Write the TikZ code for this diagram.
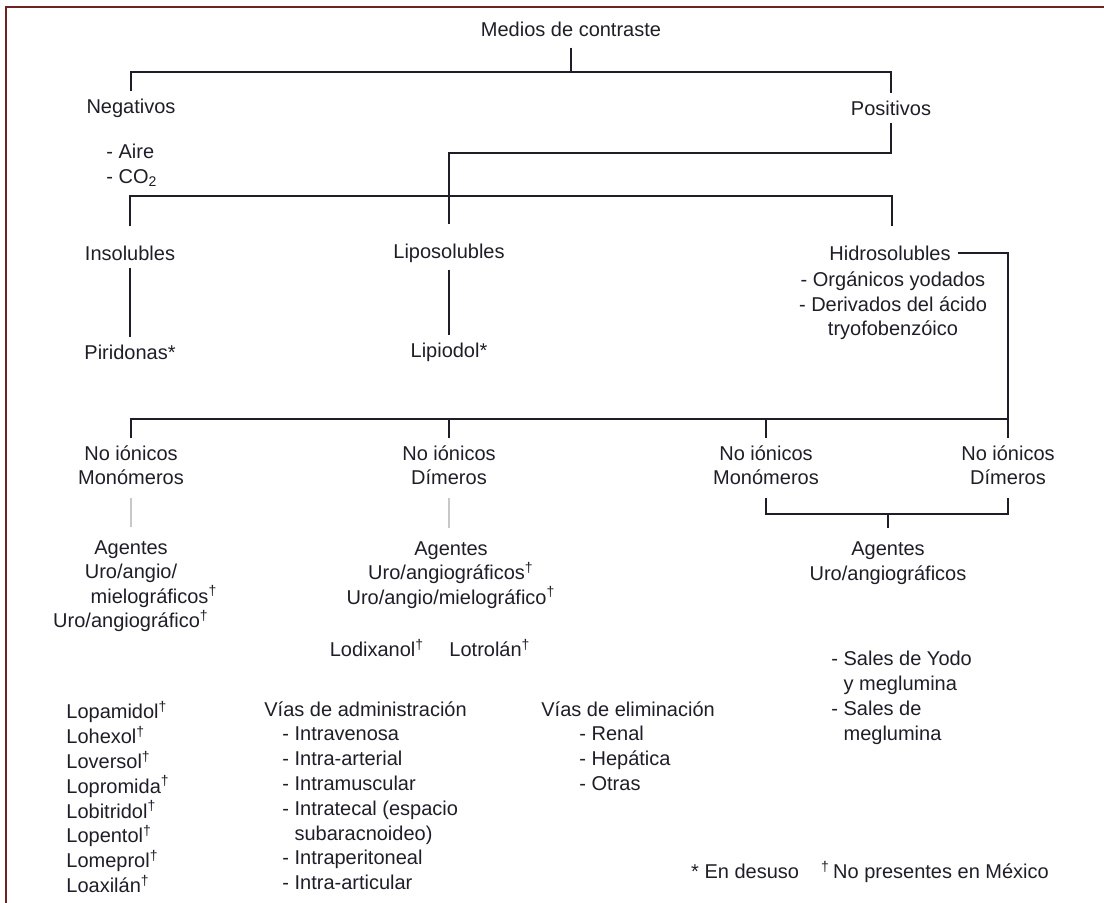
\documentclass[tikz,border=0pt]{standalone}
\usepackage{fontspec}
\setmainfont{Liberation Sans}
\usetikzlibrary{positioning}
\definecolor{framecolor}{RGB}{110,35,32}
\definecolor{inkcolor}{RGB}{30,30,40}
\definecolor{faintcolor}{RGB}{200,200,200}
\newcommand{\nomex}{\textsuperscript{†}}
\tikzset{
  chart text/.style={
    text=inkcolor,
    inner sep=3.5pt,
    align=center,
    font=\fontsize{10}{12.2}\selectfont
  },
  list text/.style={
    chart text,
    align=left,
    anchor=north west,
    inner sep=0pt,
    font=\fontsize{10}{12.4}\selectfont
  },
  chart line/.style={
    draw=inkcolor,
    line width=0.8pt
  },
  faint line/.style={
    draw=faintcolor,
    line width=0.7pt
  },
  frame line/.style={
    draw=framecolor,
    line width=1.3pt
  }
}

\begin{document}
\begin{tikzpicture}[x=0.5pt, y=-0.5pt]
  \useasboundingbox (0,0) rectangle (1104,903);
  % Frame
  \draw[frame line] (6,903) -- (6,7) -- (1104,7);

  % Top levels
  \node[chart text] (medios) at (571,29) {Medios de contraste};
  \node[chart text] (neg) at (131,108) {Negativos};
  \node[chart text] (pos) at (891,108) {Positivos};
  \node[list text, anchor=west] (gases) at (106,165) {- Aire\\- CO\textsubscript{2}};

  \node[chart text] (insol) at (130,253) {Insolubles};
  \node[chart text] (lipo) at (449,253) {Liposolubles};
  \node[chart text] (hidro) at (890,253) {Hidrosolubles};
  \node[chart text] (yodados) at (893,306) {- Orgánicos yodados\\- Derivados del ácido\\tryofobenzóico};

  \node[chart text] (pirid) at (130,352) {Piridonas*};
  \node[chart text] (lipiod) at (449,352) {Lipiodol*};

  % No ionicos
  \node[chart text] (mono1) at (131,465) {No iónicos\\Monómeros};
  \node[chart text] (dim1) at (449,465) {No iónicos\\Dímeros};
  \node[chart text] (mono2) at (766,465) {No iónicos\\Monómeros};
  \node[chart text] (dim2) at (1008,465) {No iónicos\\Dímeros};

  % Agentes
  \node[chart text] (agent1) at (131,586) {Agentes\\Uro/angio/\\\hspace*{2.3em}mielográficos\nomex\\Uro/angiográfico\nomex};
  \node[chart text] (agent2) at (451,575) {Agentes\\Uro/angiográficos\nomex\\Uro/angio/mielográfico\nomex};
  \node[chart text] (agent3) at (888,563) {Agentes\\Uro/angiográficos};

  \node[chart text] (lodix) at (377,648) {Lodixanol\nomex};
  \node[chart text] (lotrol) at (490,648) {Lotrolán\nomex};
  \node[list text] (sales) at (831,651) {- Sales de Yodo\\\phantom{- }y meglumina\\- Sales de\\\phantom{- }meglumina};

  % Lists
  \node[list text] (lolist) at (66,701) {Lopamidol\nomex\\Lohexol\nomex\\Loversol\nomex\\Lopromida\nomex\\Lobitridol\nomex\\Lopentol\nomex\\Lomeprol\nomex\\Loaxilán\nomex};
  \node[list text] (admin) at (264,701) {Vías de administración\\
    \hspace*{0.9em}- Intravenosa\\
    \hspace*{0.9em}- Intra-arterial\\
    \hspace*{0.9em}- Intramuscular\\
    \hspace*{0.9em}- Intratecal (espacio\\
    \hspace*{0.9em}\phantom{- }subaracnoideo)\\
    \hspace*{0.9em}- Intraperitoneal\\
    \hspace*{0.9em}- Intra-articular};
  \node[list text] (elim) at (541,701) {Vías de eliminación\\
    \hspace*{1.9em}- Renal\\
    \hspace*{1.9em}- Hepática\\
    \hspace*{1.9em}- Otras};

  \node[chart text] (notes) at (870,872) {* En desuso\hspace{1.1em}\nomex\,No presentes en México};

  % Junctions
  \coordinate (j1) at (571,72);
  \coordinate (j2) at (449,153);
  \coordinate (j3) at (892,196);
  \coordinate (j4) at (1008,419);
  \coordinate (j5) at (888,514);

  % Connectors
  \draw[chart line, shorten <=2pt] (medios.south) -- (j1);
  \draw[chart line] (neg.north) |- (j1) -| (pos.north);
  \draw[chart line, shorten >=6pt] (pos.south) |- (j2) -- (lipo.north);
  \draw[chart line, shorten <=6pt, shorten >=6pt] (insol.north) |- (j3) -- (hidro.north -| j3);
  \draw[chart line] (insol.south) -- (pirid.north);
  \draw[chart line] (lipo.south) -- (lipiod.north);
  \draw[chart line] (hidro.east) -| (j4);
  \draw[chart line] (mono1.north) |- (j4) -- (dim2.north);
  \draw[chart line] (dim1.north) -- (dim1.north |- j4);
  \draw[chart line] (mono2.north) -- (mono2.north |- j4);
  \draw[faint line, shorten <=3pt, shorten >=3pt] (mono1.south) -- (mono1.south |- agent1.north);
  \draw[faint line, shorten <=3pt, shorten >=3pt] (dim1.south) -- (dim1.south |- agent2.north);
  \draw[chart line, shorten <=3pt] (mono2.south) |- (j5) -| ([yshift=-3pt]dim2.south);
  \draw[chart line] (j5) -- ([yshift=3pt]agent3.north);
\end{tikzpicture}
\end{document}
